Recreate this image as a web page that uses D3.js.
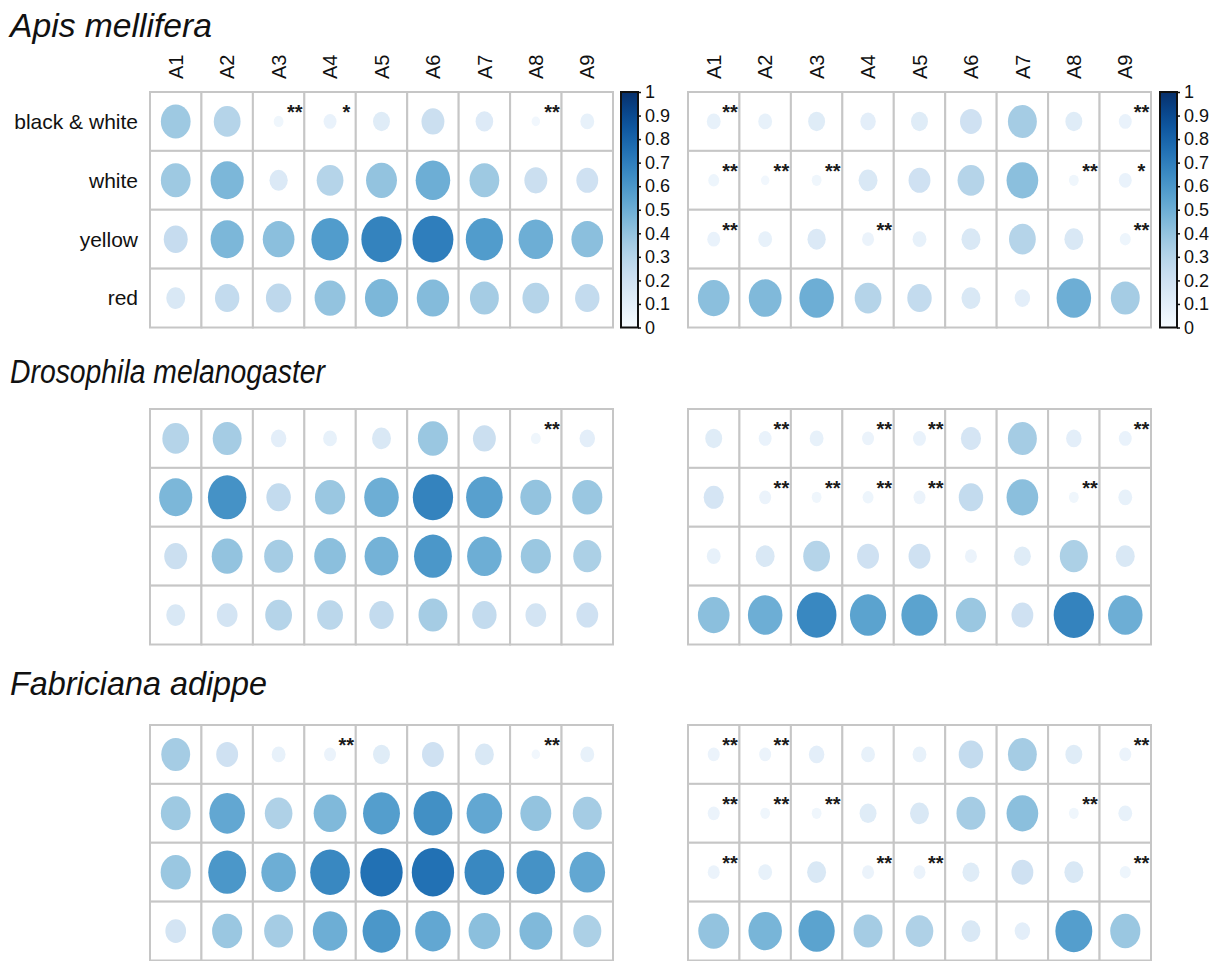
<!DOCTYPE html>
<html>
<head>
<meta charset="utf-8">
<script src="https://cdn.jsdelivr.net/npm/d3@7"></script>
<style>
  html, body { margin: 0; padding: 0; background: #fff; }
  svg { display: block; font-family: "Liberation Sans", Arial, Helvetica, sans-serif; }
</style>
</head>
<body>
<svg id="chart" width="1211" height="961"></svg>
<script>
// ---- data ----
const columns = ["A1", "A2", "A3", "A4", "A5", "A6", "A7", "A8", "A9"];
const rowLabels = ["black & white", "white", "yellow", "red"];
const speciesNames = ["Apis mellifera", "Drosophila melanogaster", "Fabriciana adippe"];
const colorbarTicks = [0, 0.1, 0.2, 0.3, 0.4, 0.5, 0.6, 0.7, 0.8, 0.9, 1];

// Apis mellifera
const apisLeft = [
  [0.37, 0.30, 0.04, 0.07, 0.12, 0.22, 0.13, 0.03, 0.08],
  [0.37, 0.46, 0.14, 0.30, 0.40, 0.50, 0.37, 0.22, 0.20],
  [0.24, 0.46, 0.42, 0.58, 0.68, 0.70, 0.58, 0.50, 0.42],
  [0.15, 0.25, 0.27, 0.40, 0.46, 0.44, 0.35, 0.30, 0.25]
];
const apisLeftSig = [
  ["", "", "**", "*", "", "", "", "**", ""],
  ["", "", "", "", "", "", "", "", ""],
  ["", "", "", "", "", "", "", "", ""],
  ["", "", "", "", "", "", "", "", ""]
];
const apisRight = [
  [0.08, 0.08, 0.12, 0.10, 0.12, 0.20, 0.35, 0.12, 0.07],
  [0.05, 0.03, 0.04, 0.15, 0.20, 0.30, 0.42, 0.04, 0.07],
  [0.07, 0.08, 0.14, 0.06, 0.08, 0.15, 0.30, 0.15, 0.05],
  [0.42, 0.45, 0.50, 0.30, 0.25, 0.15, 0.10, 0.50, 0.35]
];
const apisRightSig = [
  ["**", "", "", "", "", "", "", "", "**"],
  ["**", "**", "**", "", "", "", "", "**", "*"],
  ["**", "", "", "**", "", "", "", "", "**"],
  ["", "", "", "", "", "", "", "", ""]
];

// Drosophila melanogaster
const drosLeft = [
  [0.30, 0.35, 0.10, 0.08, 0.15, 0.38, 0.22, 0.04, 0.10],
  [0.46, 0.62, 0.25, 0.38, 0.50, 0.68, 0.56, 0.40, 0.38],
  [0.22, 0.40, 0.35, 0.42, 0.48, 0.60, 0.50, 0.38, 0.33],
  [0.15, 0.18, 0.30, 0.28, 0.25, 0.35, 0.25, 0.18, 0.20]
];
const drosLeftSig = [
  ["", "", "", "", "", "", "", "**", ""],
  ["", "", "", "", "", "", "", "", ""],
  ["", "", "", "", "", "", "", "", ""],
  ["", "", "", "", "", "", "", "", ""]
];
const drosRight = [
  [0.12, 0.07, 0.08, 0.06, 0.07, 0.17, 0.35, 0.10, 0.07],
  [0.17, 0.06, 0.04, 0.05, 0.06, 0.25, 0.42, 0.04, 0.08],
  [0.08, 0.15, 0.30, 0.20, 0.20, 0.06, 0.12, 0.33, 0.15],
  [0.42, 0.50, 0.66, 0.55, 0.55, 0.38, 0.20, 0.68, 0.50]
];
const drosRightSig = [
  ["", "**", "", "**", "**", "", "", "", "**"],
  ["", "**", "**", "**", "**", "", "", "**", ""],
  ["", "", "", "", "", "", "", "", ""],
  ["", "", "", "", "", "", "", "", ""]
];

// Fabriciana adippe
const fabrLeft = [
  [0.35, 0.20, 0.08, 0.06, 0.12, 0.20, 0.15, 0.03, 0.08],
  [0.37, 0.53, 0.32, 0.45, 0.57, 0.63, 0.53, 0.40, 0.35],
  [0.38, 0.60, 0.50, 0.66, 0.75, 0.75, 0.66, 0.62, 0.53],
  [0.18, 0.38, 0.35, 0.50, 0.60, 0.53, 0.42, 0.45, 0.33]
];
const fabrLeftSig = [
  ["", "", "", "**", "", "", "", "**", ""],
  ["", "", "", "", "", "", "", "", ""],
  ["", "", "", "", "", "", "", "", ""],
  ["", "", "", "", "", "", "", "", ""]
];
const fabrRight = [
  [0.06, 0.06, 0.10, 0.08, 0.08, 0.25, 0.35, 0.12, 0.06],
  [0.06, 0.04, 0.04, 0.12, 0.15, 0.35, 0.42, 0.04, 0.08],
  [0.06, 0.08, 0.15, 0.06, 0.06, 0.12, 0.20, 0.15, 0.05],
  [0.40, 0.47, 0.55, 0.35, 0.32, 0.15, 0.10, 0.57, 0.38]
];
const fabrRightSig = [
  ["**", "**", "", "", "", "", "", "", "**"],
  ["**", "**", "**", "", "", "", "", "**", ""],
  ["**", "", "", "**", "**", "", "", "", "**"],
  ["", "", "", "", "", "", "", "", ""]
];

// ---- layout ----
const svg = d3.select("#chart");
const color = d3.scaleSequential(d3.interpolateBlues).domain([0, 1]);
const sizeFrac = d3.scalePow().exponent(0.5).domain([0, 1]).range([0, 0.95]);

const xLeft = d3.scaleBand().domain(columns).range([150, 613]);
const xRight = d3.scaleBand().domain(columns).range([688, 1151]);

const panels = [
  { title: speciesNames[0], titleY: 37, titleLen: 202, top: 92,
    left: apisLeft, leftSig: apisLeftSig, right: apisRight, rightSig: apisRightSig, labels: true },
  { title: speciesNames[1], titleY: 383, titleLen: 315, top: 409,
    left: drosLeft, leftSig: drosLeftSig, right: drosRight, rightSig: drosRightSig, labels: false },
  { title: speciesNames[2], titleY: 695, titleLen: 257, top: 725,
    left: fabrLeft, leftSig: fabrLeftSig, right: fabrRight, rightSig: fabrRightSig, labels: false }
];
const panelH = 235.5;

function drawGrid(g, x, y, values, sig) {
  const cells = [];
  rowLabels.forEach((r, i) => columns.forEach((c, j) => {
    cells.push({ row: r, col: c, v: values[i][j], s: sig[i][j] });
  }));
  const bw = x.bandwidth(), bh = y.bandwidth();

  g.selectAll("rect.cell").data(cells).join("rect")
    .attr("class", "cell")
    .attr("x", d => x(d.col)).attr("y", d => y(d.row))
    .attr("width", bw).attr("height", bh)
    .attr("fill", "#fff").attr("stroke", "#c6c6c6").attr("stroke-width", 2);

  g.selectAll("ellipse").data(cells).join("ellipse")
    .attr("cx", d => x(d.col) + bw / 2)
    .attr("cy", d => y(d.row) + bh / 2)
    .attr("rx", d => sizeFrac(d.v) * bw / 2)
    .attr("ry", d => sizeFrac(d.v) * bh / 2)
    .attr("fill", d => color(d.v));

  g.selectAll("text.sig").data(cells.filter(d => d.s)).join("text")
    .attr("class", "sig")
    .attr("x", d => x(d.col) + bw - 9.5)
    .attr("y", d => y(d.row) + 27)
    .attr("text-anchor", "middle")
    .attr("font-size", 20).attr("font-weight", "bold").attr("fill", "#1a1a1a")
    .text(d => d.s);
}

function drawColorbar(x0, top, bottom) {
  const id = "grad" + Math.round(x0);
  const grad = svg.append("defs").append("linearGradient")
    .attr("id", id).attr("x1", 0).attr("x2", 0).attr("y1", 1).attr("y2", 0);
  d3.range(0, 1.0001, 0.05).forEach(t => {
    grad.append("stop").attr("offset", t).attr("stop-color", color(t));
  });
  const w = 17;
  svg.append("rect").attr("x", x0).attr("y", top).attr("width", w).attr("height", bottom - top)
    .attr("fill", `url(#${id})`).attr("stroke", "#111").attr("stroke-width", 2);
  const cy = d3.scaleLinear().domain([0, 1]).range([bottom, top]);
  const axis = d3.axisRight(cy).tickValues(colorbarTicks).tickSize(3).tickPadding(4)
    .tickFormat(d => d3.format("~g")(d));
  const ag = svg.append("g").attr("transform", `translate(${x0 + w},0)`).call(axis);
  ag.select(".domain").remove();
  ag.selectAll(".tick line").attr("stroke", "#111").attr("stroke-width", 1.5);
  ag.selectAll(".tick text").attr("font-size", 18).attr("fill", "#111")
    .attr("font-family", "Liberation Sans, Arial, sans-serif");
}

panels.forEach(p => {
  const y = d3.scaleBand().domain(rowLabels).range([p.top, p.top + panelH]);

  svg.append("text").attr("x", 10).attr("y", p.titleY)
    .attr("font-size", 33).attr("font-style", "italic").attr("fill", "#111")
    .attr("textLength", p.titleLen).attr("lengthAdjust", "spacingAndGlyphs")
    .text(p.title);

  drawGrid(svg.append("g"), xLeft, y, p.left, p.leftSig);
  drawGrid(svg.append("g"), xRight, y, p.right, p.rightSig);

  if (p.labels) {
    svg.append("g").selectAll("text").data(rowLabels).join("text")
      .attr("x", 138).attr("y", d => y(d) + y.bandwidth() / 2)
      .attr("dy", "0.35em").attr("text-anchor", "end")
      .attr("font-size", 21).attr("fill", "#111").text(d => d);

    [xLeft, xRight].forEach(x => {
      svg.append("g").selectAll("text").data(columns).join("text")
        .attr("transform", d => `translate(${x(d) + x.bandwidth() / 2},79) rotate(-90)`)
        .attr("dy", "0.36em").attr("text-anchor", "start")
        .attr("font-size", 20).attr("fill", "#111").text(d => d);
    });

    drawColorbar(621, p.top, p.top + panelH);
    drawColorbar(1160, p.top, p.top + panelH);
  }
});
</script>
</body>
</html>
